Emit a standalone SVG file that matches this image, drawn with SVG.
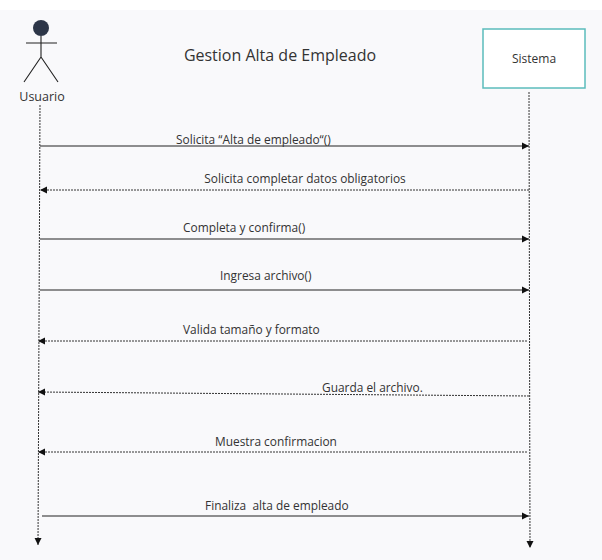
<svg xmlns="http://www.w3.org/2000/svg" width="602" height="560" viewBox="0 0 602 560">
<style>
text{font-family:"Open Sans","Noto Sans",sans-serif;fill:#333;font-size:11.9px}
.s{stroke:#222;stroke-width:1.1;fill:none}
.d{stroke:#333;stroke-width:1;stroke-dasharray:2,1;fill:none}
</style>
<defs>
<marker id="a" markerWidth="8" markerHeight="8" refX="7" refY="4" orient="auto" markerUnits="userSpaceOnUse"><path d="M0,0.5L7,4L0,7.5Z" fill="#111"/></marker>
</defs>
<rect x="0" y="0" width="602" height="560" fill="#fff"/>
<rect x="0" y="10" width="602" height="550" fill="#f9f9fb"/>
<text x="280" y="61" text-anchor="middle" style="font-size:16px">Gestion Alta de Empleado</text>
<g id="usuario">
<circle cx="41" cy="28" r="8" fill="#2d3648"/>
<path class="s" d="M41,36V57M26,43H57M41,57L24,82M41,57L58,82"/>
<text x="42" y="101" text-anchor="middle" style="font-size:12.5px">Usuario</text>
</g>
<g id="sistema">
<rect x="483" y="29" width="102" height="59" fill="#fff" stroke="#5bbcbc" stroke-width="1.5"/>
<text x="534" y="63" text-anchor="middle" style="font-size:12px">Sistema</text>
</g>
<g id="connectors">
<line class="d" x1="40" y1="105" x2="38" y2="545" marker-end="url(#a)"/>
<line class="d" x1="529" y1="92" x2="530" y2="548" marker-end="url(#a)"/>
<line class="s" x1="40" y1="146" x2="529" y2="146" marker-end="url(#a)"/>
<line class="d" x1="529" y1="190" x2="40" y2="190" marker-end="url(#a)"/>
<line class="s" x1="40" y1="239" x2="529" y2="239" marker-end="url(#a)"/>
<line class="s" x1="40" y1="290" x2="529" y2="290" marker-end="url(#a)"/>
<line class="d" x1="527" y1="341" x2="38" y2="341" marker-end="url(#a)"/>
<line class="d" x1="529" y1="396" x2="38" y2="392" marker-end="url(#a)"/>
<line class="d" x1="527" y1="452" x2="38" y2="452" marker-end="url(#a)"/>
<line class="s" x1="42" y1="516" x2="529" y2="516" marker-end="url(#a)"/>
</g>
<g id="labels">
<text x="176" y="144">Solicita “Alta de empleado“()</text>
<text x="305" y="183" text-anchor="middle">Solicita completar datos obligatorios</text>
<text x="183" y="232">Completa y confirma()</text>
<text x="220" y="280">Ingresa archivo()</text>
<text x="183" y="334">Valida tamaño y formato</text>
<text x="322" y="392">Guarda el archivo.</text>
<text x="215" y="446">Muestra confirmacion</text>
<text x="205" y="510" xml:space="preserve">Finaliza  alta de empleado</text>
</g>
</svg>
